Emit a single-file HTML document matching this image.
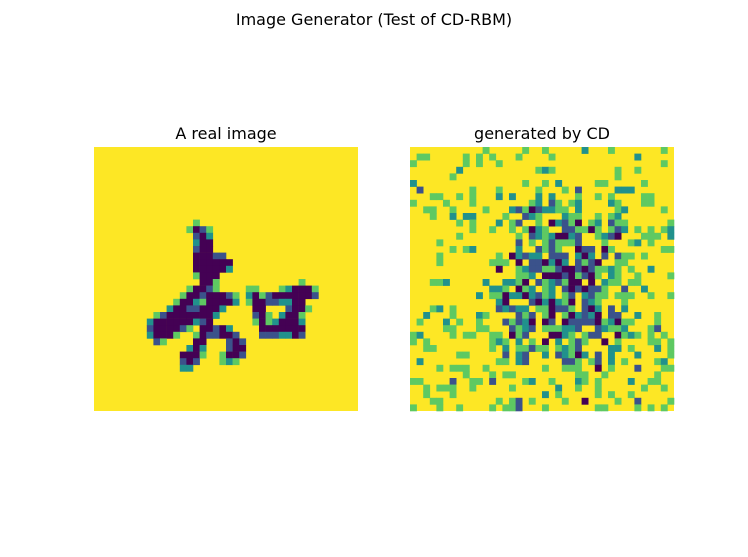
<!DOCTYPE html>
<html><head><meta charset="utf-8"><style>
body{margin:0;background:#fff;}
svg text{font-family:"DejaVu Sans","Liberation Sans",sans-serif;fill:#000;}
</style></head><body>
<svg id="fig" width="748" height="552" xmlns="http://www.w3.org/2000/svg">
<rect x="0" y="0" width="748" height="552" fill="#fff"/>
<text x="374" y="25" font-size="16" text-anchor="middle">Image Generator (Test of CD-RBM)</text>
<text x="226" y="139" font-size="16" text-anchor="middle">A real image</text>
<text x="542" y="139" font-size="16" text-anchor="middle">generated by CD</text>
<g id="real"></g>
<g id="gen"></g>
</svg>
<script>
// sparse rows: "row:col+Letter ..." ; background is Y (value 1)
const levels = {Y:1, G:0.75, T:0.5, B:0.25, D:0};
const realRows = [
"11:15G","12:14G 15D 16B 17G","13:15B 16D 17T","14:15T 16D 17D","15:15B 16D 17D",
"16:15D 16D 17D 18B 19B","17:15D 16D 17D 18D 19D 20D","18:15D 16D 17D 18D 19D 20T",
"19:15G 16D 17D 18D","20:16D 17D 18G 31G",
"21:14G 15D 16D 17B 18G 23G 24G 28G 29T 30D 31D 32D 33G",
"22:13G 14D 15D 16B 17D 18D 19D 20B 21G 23T 24D 25G 26B 27D 28D 29D 30D 31D 32D 33B",
"23:12G 13D 14D 15T 16G 17D 18D 19D 20D 21T 23G 24D 25D 26B 27B 28T 29T 30D 31D",
"24:11T 12D 13D 14B 15B 16D 17D 18D 19T 24D 25D 29B 30D 31D 32G",
"25:9G 10B 11D 12D 13D 14D 15D 16D 17D 18T 24B 25D 26G 28T 29D 30D 31G",
"26:8T 9D 10D 11D 12D 13D 14D 15T 16B 17D 24G 25D 26G 27T 28D 29D 30D 31T",
"27:8B 9D 10D 11D 12D 13B 14G 16D 17D 18B 19D 20T 25D 26D 27D 28D 29D 30D 31D",
"28:8T 9D 10D 11D 12G 15G 16D 17B 18B 19D 20D 21B 25B 26B 27B 28T 29T 30D 31B",
"29:9B 10G 15D 16D 20B 21D 22B","30:14T 15D 16T 20B 21D 22D",
"31:13D 14D 15D 16G 19G 20D 21D 22B","32:13B 14D 15B 19G 20T 21G","33:13T 14T"
];
const genRows = [
"0:11G 17G 20G 26T 30G 38G","1:1G 2G 8G 10G 12G 16G 21G 34T","2:0G 8G 10G 13G 38G",
"3:7T 19G 20T 21G 31G 34G","4:6G 31G","5:0T 17G 20G 22T 28G 29G 35G",
"6:1B 9G 13G 19G 23G 25B 31T 32T 33T","7:3G 4G 7G 9G 13T 15T 19T 21T 25G 28G 30G 35G 36G",
"8:0G 5G 9G 18G 19T 21B 22G 24G 25T 30T 31G 35G 36G",
"9:2G 3G 6G 11G 15T 16B 17G 18D 19B 20T 21T 22G 23G 25T 31G 32T 38G",
"10:3G 6T 8T 9T 14G 17B 18T 19G 23T 24G 25G 28G 30G 31T",
"11:7G 9G 13T 15G 16B 19G 21D 22T 23B 24G 25D 27G 28T 30B 31G 32G 39G",
"12:9G 12G 15G 17G 18D 19T 20G 23B 24B 25G 26G 27D 28G 30G 31B 32T 34G 36G 38G 39T",
"13:7G 16G 18B 19T 20G 21T 22D 23D 24T 25B 28G 29T 30B 31D 35G 36G 37G 39T",
"14:4G 16B 18G 20G 21B 22G 23G 24G 25B 29G 33G 34T 36G",
"15:6G 8G 9T 16T 19B 20G 21B 22G 25D 26B 27B 29D 30G 38G 39G",
"16:4G 13G 15D 16T 17B 18T 19T 21B 22B 23B 25T 26D 27T 29B 31B 32G 33G 35G",
"17:4G 12G 13G 14G 16D 18B 19B 20D 21T 22D 23T 25B 26G 27B 28D 31G 32G",
"18:13D 16G 17T 18B 19B 20G 21G 22B 23D 24D 25B 26D 27B 28G 29G 30T 31G 33G 36T",
"19:16G 17G 18T 20D 21D 22D 23B 24D 25G 26B 27D 28G 30T 31G 34G 39G",
"20:3G 4G 5T 11T 14T 15T 16G 17D 19B 20G 21T 22B 23G 24D 25D 27D 29T 30G 31G 33G 34G",
"21:12T 13T 14G 16D 17G 18T 20G 21T 23B 24D 25B 26D 27B 28B 29G 32B 35T",
"22:10T 12G 13G 14D 15T 16T 17D 18T 19B 20G 21T 23G 24B 26T 27B 28G 29G 31G 32G 33G 36G 39G",
"23:13T 14D 18B 19D 20T 21D 22T 23G 24D 26B 27T 28G 32G",
"24:3G 4T 6G 13B 14T 15B 16T 17T 19G 20G 21D 22B 23B 24G 26B 27D 28T 30B 32T",
"25:2T 6G 10T 11G 16B 17G 18B 20G 21D 23G 24D 25T 26B 27T 28D 30B 31B 34T 37G",
"26:1G 5T 7G 10G 14B 15G 16B 17T 18D 20D 21B 23D 24B 25B 26B 27B 28D 29G 30T 31D 32G 33G 37G",
"27:5G 6G 10G 11G 15B 16G 17T 18B 20G 21G 22G 23T 24T 25B 28B 29T 30G 31G 32T 36G 37B",
"28:0G 1T 6G 8G 9G 12G 13G 15D 16G 17B 21D 22D 23T 24G 26G 27B 28B 31D 32G 33T 34G 36G 38G",
"29:0G 2G 12G 13T 14G 16T 18G 20D 22T 24G 25B 26G 29D 31G 36G 37G 39G",
"30:2G 3G 12G 14T 16G 17G 18B 19G 20G 22G 23T 24G 25B 30T 31T 33G 37T 39G",
"31:7G 8G 14B 16T 17B 20T 22B 23T 24G 25D 26T 28B 30T 34T 39G",
"32:1T 13G 14G 16T 17B 23B 24B 25G 27G 28B 30T 32G 37G 38T",
"33:4G 6G 7G 8G 11G 20G 23G 24G 25G 28D 30G 34B 38G 39G",
"34:8G 12G 14G 15G 25G 26G 29G 37G",
"35:0G 1G 6B 9G 10G 12B 17G 18T 21G 25T 26G 28G 33T 36G 37G",
"36:2G 4G 5G 6G 9G 15G 22T 25G 28G 35G 38G",
"37:2G 6G 20T 22G 28G 30G 33G",
"38:3G 4G 13G 15G 16B 18G 23G 26D 31G 34B 39G",
"39:0G 4G 7G 12G 14G 15G 16B 20G 28G 29G 34G 36G 38G"
];
const N = 40;
const cmap = v => v>=0.875?'#fde725':v>=0.625?'#5ec962':v>=0.375?'#21918c':v>=0.125?'#3b528b':'#440154';
function build(rows){
  const g=[];for(let r=0;r<N;r++){g.push(new Array(N).fill(1));}
  rows.forEach(s=>{const [r,rest]=s.split(':');rest.split(' ').forEach(t=>{const c=parseInt(t);const L=t.slice(-1);g[+r][c]=levels[L];});});
  return g;
}
function draw(id,rows,x0,y0,size){
  const grid=build(rows), cs=size/N, el=document.getElementById(id), ns='http://www.w3.org/2000/svg';
  const bg=document.createElementNS(ns,'rect');
  bg.setAttribute('x',x0);bg.setAttribute('y',y0);bg.setAttribute('width',size);bg.setAttribute('height',size);bg.setAttribute('fill',cmap(1));
  
  
  el.appendChild(bg);
  for(let r=0;r<N;r++)for(let c=0;c<N;c++){
    if(grid[r][c]>=0.875)continue;
    const rc=document.createElementNS(ns,'rect');
    rc.setAttribute('x',(x0+c*cs).toFixed(2));rc.setAttribute('y',(y0+r*cs).toFixed(2));
    rc.setAttribute('width',(cs+0.3).toFixed(2));rc.setAttribute('height',(cs+0.3).toFixed(2));
    rc.setAttribute('fill',cmap(grid[r][c]));
    
    
    el.appendChild(rc);
  }
}
draw('real',realRows,94,147,264);
draw('gen',genRows,410,147,264);
</script>
</body></html>
